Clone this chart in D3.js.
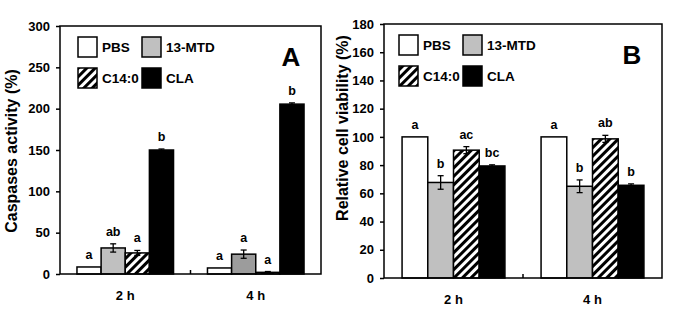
<!DOCTYPE html>
<html>
<head>
<meta charset="utf-8">
<title>Caspases activity and cell viability</title>
<script src="https://d3js.org/d3.v7.min.js"></script>
<style>
    body { margin: 0; background: #fff; }
    svg text { font-family: Arial, "Liberation Sans", sans-serif; font-weight: bold; fill: #000; }
</style>
</head>
<body>
<div id="chart"></div>
<script>
// data
var groups = ["2 h", "4 h"];
var series = ["PBS", "13-MTD", "C14:0", "CLA"];

var caspMean = [[8.5, 31.5, 25.5, 150], [7.3, 24, 2, 205.5]];
var caspErr  = [[0, 5, 3, 1.2], [0, 5, 1, 1.5]];
var caspLetters = [["a", "ab", "a", "b"], ["a", "a", "a", "b"]];
var caspTicks = [0, 50, 100, 150, 200, 250, 300];

var viaMean = [[100, 67.7, 90.6, 79.4], [100, 65, 98.6, 65.7]];
var viaErr  = [[0, 4.8, 2.5, 0.8], [0, 4.5, 2.5, 1]];
var viaLetters = [["a", "b", "ac", "bc"], ["a", "b", "ab", "b"]];
var viaTicks = [0, 20, 40, 60, 80, 100, 120, 140, 160, 180];

var svg = d3.select("#chart").append("svg")
    .attr("width", 685)
    .attr("height", 320);

var defs = svg.append("defs");
var pat = defs.append("pattern")
    .attr("id", "hatch")
    .attr("patternUnits", "userSpaceOnUse")
    .attr("width", 6)
    .attr("height", 6)
    .attr("patternTransform", "rotate(45)");
pat.append("rect").attr("width", 6).attr("height", 6).attr("fill", "#fff");
pat.append("rect").attr("width", 3).attr("height", 6).attr("fill", "#000");

var fills = ["#fff", "#c0c0c0", "url(#hatch)", "#000"];

function panel(opt) {
    var g = svg.append("g");
    var x0 = d3.scaleBand().domain(groups).range([opt.left, opt.right]);
    var barW = x0.bandwidth() * 0.185;
    var x1 = d3.scaleBand().domain(series)
        .range([-barW * 2, barW * 2]);
    var y = d3.scaleLinear().domain([0, opt.max]).range([opt.bottom, opt.top]);

    // y axis
    var yAxis = g.append("g")
        .attr("transform", "translate(" + opt.left + ",0)")
        .call(d3.axisLeft(y).tickValues(opt.ticks).tickSize(4).tickPadding(6));
    yAxis.select(".domain").remove();
    yAxis.selectAll("line").attr("stroke", "#000").attr("stroke-width", 1.5);
    yAxis.selectAll("text").style("font-size", "13px");

    // bars
    groups.forEach(function(gr, i) {
        var cx = x0(gr) + x0.bandwidth() / 2;
        series.forEach(function(s, j) {
            var v = opt.mean[i][j];
            var e = opt.err[i][j];
            var fill = fills[j];
            if (opt.darkGrey && opt.darkGrey[i] && j === 1) fill = "#9c9c9c";
            g.append("rect")
                .attr("x", cx + x1(s))
                .attr("y", y(v))
                .attr("width", x1.bandwidth())
                .attr("height", y(0) - y(v))
                .attr("fill", fill)
                .attr("stroke", "#000")
                .attr("stroke-width", 1.5);
            var bx = cx + x1(s) + x1.bandwidth() / 2;
            if (e > 0) {
                g.append("line").attr("x1", bx).attr("x2", bx)
                    .attr("y1", y(v - e)).attr("y2", y(v + e))
                    .attr("stroke", "#000").attr("stroke-width", 1.3);
                [v - e, v + e].forEach(function(t) {
                    g.append("line").attr("x1", bx - 3).attr("x2", bx + 3)
                        .attr("y1", y(t)).attr("y2", y(t))
                        .attr("stroke", "#000").attr("stroke-width", 1.3);
                });
            }
            g.append("text")
                .attr("x", bx)
                .attr("y", y(v + e) - 8)
                .attr("text-anchor", "middle")
                .style("font-size", "12.5px")
                .text(opt.letters[i][j]);
        });
        g.append("text")
            .attr("x", cx)
            .attr("y", opt.bottom + 26)
            .attr("text-anchor", "middle")
            .style("font-size", "13px")
            .text(gr);
    });

    // frame
    g.append("rect")
        .attr("x", opt.left).attr("y", opt.top)
        .attr("width", opt.right - opt.left)
        .attr("height", opt.bottom - opt.top)
        .attr("fill", "none")
        .attr("stroke", "#000")
        .attr("stroke-width", 1.5);
    var mid = x0(groups[1]);
    g.append("line").attr("x1", mid).attr("x2", mid)
        .attr("y1", opt.bottom).attr("y2", opt.bottom - 4)
        .attr("stroke", "#000").attr("stroke-width", 1.5);

    // y title
    g.append("text")
        .attr("transform", "translate(" + opt.titleX + "," + opt.titleY + ") rotate(-90)")
        .attr("text-anchor", "middle")
        .style("font-size", "16px")
        .text(opt.title);

    // legend
    var lx = opt.left + opt.legX, ly = opt.top + opt.legY;
    series.forEach(function(s, j) {
        var col = j % 2, row = Math.floor(j / 2);
        var bx = lx + col * 64, by = ly + row * 31;
        g.append("rect")
            .attr("x", bx).attr("y", by)
            .attr("width", 19).attr("height", 20)
            .attr("fill", fills[j])
            .attr("stroke", "#000")
            .attr("stroke-width", 1.5);
        g.append("text")
            .attr("x", bx + 24).attr("y", by + 15)
            .style("font-size", "13.5px")
            .text(s);
    });

    // panel letter
    g.append("text")
        .attr("x", opt.right - 30)
        .attr("y", opt.top + 40)
        .attr("text-anchor", "middle")
        .style("font-size", "26px")
        .text(opt.tag);
}

panel({
    left: 60, right: 321, top: 26, bottom: 274, max: 300,
    ticks: caspTicks, mean: caspMean, err: caspErr, letters: caspLetters,
    title: "Caspases activity (%)", titleX: 17, titleY: 151, legX: 18, legY: 11, tag: "A",
    darkGrey: [false, true]
});
panel({
    left: 384, right: 662, top: 24, bottom: 278, max: 180,
    ticks: viaTicks, mean: viaMean, err: viaErr, letters: viaLetters,
    title: "Relative cell viability (%)", titleX: 348, titleY: 128, legX: 15, legY: 11, tag: "B"
});
</script>
</body>
</html>
